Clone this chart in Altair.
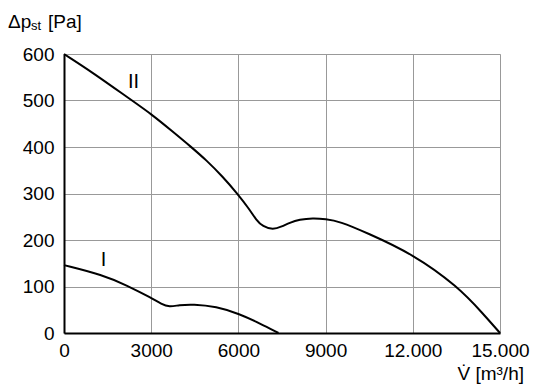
import altair as alt
import pandas as pd

# Curve II
q2 = [0, 991, 2312, 3000, 3743, 4376, 4892, 5464, 5960, 6382, 6613, 6839, 7185, 7500, 7758, 8100, 8560, 9000, 9480, 10400, 12000, 13550, 14410, 15000]
p2 = [600, 560, 501, 471, 433, 400, 372, 336, 300, 266, 243, 229, 222, 229, 237, 244, 247, 245, 240, 216, 170, 100, 42, 0]
# Curve I
q1 = [0, 1335, 2140, 3020, 3350, 3630, 3950, 4430, 5236, 6040, 6727, 7380]
p1 = [146, 125, 103, 75, 62, 56, 60, 62, 57, 41, 21, 0]

x_ticks = [0, 3000, 6000, 9000, 12000, 15000]
x_tick_labels = ["0", "3000", "6000", "9000", "12.000", "15.000"]
y_ticks = [0, 100, 200, 300, 400, 500, 600]

curve_names = ["I", "II"]
label_q = [1360, 2390]
label_p = [157, 540]

FONT = "Liberation Sans"

df = pd.concat([
    pd.DataFrame({"q": q1, "p": p1, "curve": "I"}),
    pd.DataFrame({"q": q2, "p": p2, "curve": "II"}),
])
lab = pd.DataFrame({"q": label_q, "p": label_p, "name": curve_names})

expr = "datum.label"
for v, l in reversed(list(zip(x_ticks, x_tick_labels))):
    expr = f"datum.value == {v} ? '{l}' : ({expr})"

xs = alt.Scale(domain=[0, 15000], nice=False, zero=True)
ys = alt.Scale(domain=[0, 600], nice=False)

xaxis = alt.Axis(values=x_ticks, labelExpr=expr, title=None, grid=True, ticks=False,
                 labelOverlap=False, labelFlush=False, labelPadding=8, labelFontSize=19,
                 labelFont=FONT, labelColor="black", domainColor="black", domainWidth=2,
                 gridColor="#999999", gridWidth=1)
yaxis = alt.Axis(values=y_ticks, title=None, grid=True, ticks=False,
                 labelOverlap=False, labelFlush=False, labelPadding=10, labelFontSize=19,
                 labelFont=FONT, labelColor="black", domainColor="black", domainWidth=2,
                 gridColor="#999999", gridWidth=1)

lines = alt.Chart(df).mark_line(color="black", strokeWidth=2, interpolate="basis").encode(
    x=alt.X("q:Q", scale=xs, axis=xaxis),
    y=alt.Y("p:Q", scale=ys, axis=yaxis),
    detail="curve:N",
)

labels = alt.Chart(lab).mark_text(fontSize=20, font=FONT, color="black", align="center", baseline="middle").encode(
    x=alt.X("q:Q", scale=xs),
    y=alt.Y("p:Q", scale=ys),
    text="name:N",
)

t_dp = alt.Chart(pd.DataFrame({"t": ["Δp"]})).mark_text(
    fontSize=19, font=FONT, color="black", align="left", baseline="alphabetic"
).encode(x=alt.value(-56), y=alt.value(-26), text="t:N")
t_st = alt.Chart(pd.DataFrame({"t": ["st"]})).mark_text(
    fontSize=13, font=FONT, color="black", align="left", baseline="alphabetic"
).encode(x=alt.value(-33), y=alt.value(-24), text="t:N")
t_pa = alt.Chart(pd.DataFrame({"t": ["[Pa]"]})).mark_text(
    fontSize=19, font=FONT, color="black", align="left", baseline="alphabetic"
).encode(x=alt.value(-16), y=alt.value(-26), text="t:N")
t_v = alt.Chart(pd.DataFrame({"t": ["V\u0307 [m\u00b3/h]"]})).mark_text(
    fontSize=19, font=FONT, color="black", align="right", baseline="alphabetic"
).encode(x=alt.value(460), y=alt.value(326), text="t:N")

chart = alt.layer(lines, labels, t_dp, t_st, t_pa, t_v).properties(
    width=436, height=279,
    autosize=alt.AutoSizeParams(type="none"),
    padding={"left": 64, "top": 54, "right": 36, "bottom": 55},
).configure_view(stroke="black", strokeWidth=2).configure(background="white")

chart.save("out.html", embed_options={"renderer": "svg", "actions": False})
